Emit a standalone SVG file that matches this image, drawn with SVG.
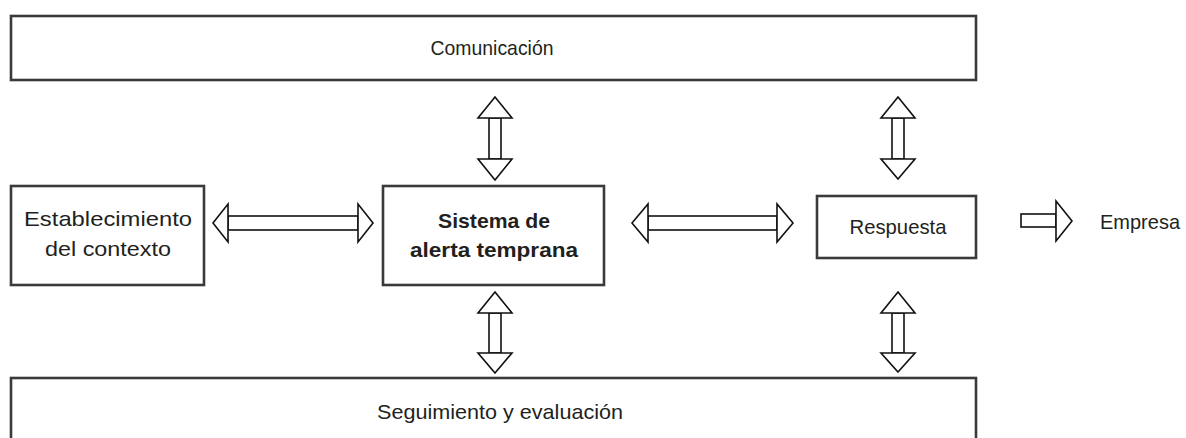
<svg xmlns="http://www.w3.org/2000/svg" width="1186" height="438" viewBox="0 0 1186 438">
<style>
.box{fill:#fff;stroke:#3a3a3a;stroke-width:2.6}
.arr{fill:#fff;stroke:#111;stroke-width:1.6;stroke-linejoin:miter}
.t{font-family:"Liberation Sans",Arial,sans-serif;font-size:21px;fill:#231f20;text-anchor:middle}
.b{font-weight:bold}
</style>
<rect width="1186" height="438" fill="#fff"/>
<g id="comunicacion">
<rect class="box" x="11" y="16" width="965" height="64"/>
<text class="t" x="492" y="55" textLength="123" lengthAdjust="spacingAndGlyphs">Comunicación</text>
</g>
<g id="establecimiento">
<rect class="box" x="11" y="186" width="193" height="99"/>
<text class="t" x="108" y="226" textLength="168" lengthAdjust="spacingAndGlyphs">Establecimiento</text>
<text class="t" x="108" y="256" textLength="126" lengthAdjust="spacingAndGlyphs">del contexto</text>
</g>
<g id="sistema">
<rect class="box" x="383" y="186" width="221" height="99"/>
<text class="t b" x="494" y="228" textLength="112" lengthAdjust="spacingAndGlyphs">Sistema de</text>
<text class="t b" x="494" y="257" textLength="168" lengthAdjust="spacingAndGlyphs">alerta temprana</text>
</g>
<g id="respuesta">
<rect class="box" x="817" y="196" width="159" height="62"/>
<text class="t" x="898" y="234" textLength="97" lengthAdjust="spacingAndGlyphs">Respuesta</text>
</g>
<g id="empresa">
<text class="t" x="1140" y="229" textLength="80" lengthAdjust="spacingAndGlyphs">Empresa</text>
</g>
<g id="seguimiento">
<rect class="box" x="11" y="378" width="965" height="70"/>
<text class="t" x="500" y="419" textLength="246" lengthAdjust="spacingAndGlyphs">Seguimiento y evaluación</text>
</g>
<g id="connectors">
<g class="arr">
<rect x="489" y="118" width="12" height="41"/>
<polygon points="495,97 512,118 478,118"/>
<polygon points="495,180 512,159 478,159"/>
</g>
<g class="arr">
<rect x="892" y="118" width="12" height="41"/>
<polygon points="898,97 915,118 881,118"/>
<polygon points="898,179 915,159 881,159"/>
</g>
<g class="arr">
<rect x="489" y="313" width="12" height="40"/>
<polygon points="495,292 512,313 478,313"/>
<polygon points="495,373 512,353 478,353"/>
</g>
<g class="arr">
<rect x="892" y="313" width="12" height="40"/>
<polygon points="898,292 915,313 881,313"/>
<polygon points="898,372 915,353 881,353"/>
</g>
<g class="arr">
<rect x="228" y="216" width="130" height="14"/>
<polygon points="213,223 228,204 228,242"/>
<polygon points="373,223 358,204 358,242"/>
</g>
<g class="arr">
<rect x="648" y="216" width="129" height="14"/>
<polygon points="632,223 648,204 648,242"/>
<polygon points="793,223 777,204 777,242"/>
</g>
<g class="arr">
<rect x="1021" y="214" width="35" height="13"/>
<polygon points="1072,221 1056,201 1056,241"/>
</g>
</g>
</svg>
